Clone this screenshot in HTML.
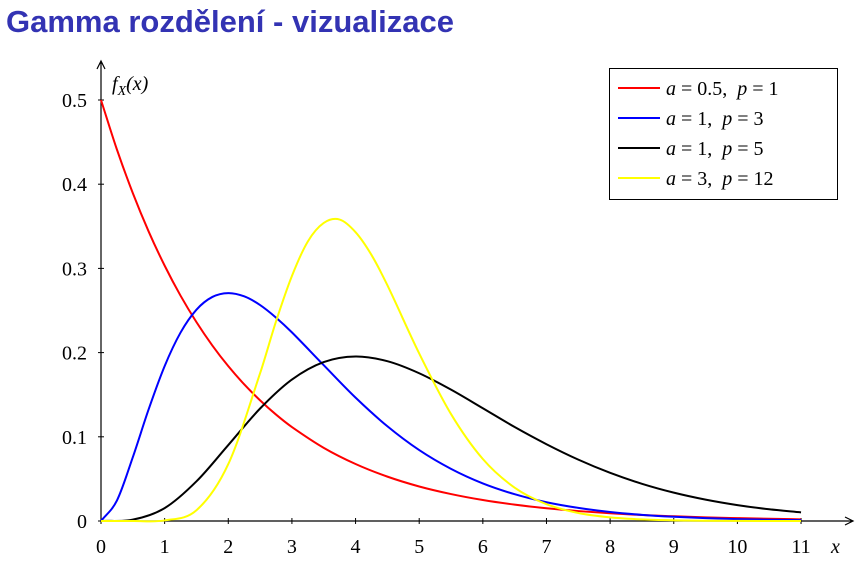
<!DOCTYPE html>
<html><head><meta charset="utf-8"><style>
body{margin:0;background:#fff;width:868px;height:572px;overflow:hidden}
svg{display:block}
.t{font-family:"Liberation Serif",serif;font-size:20px}
</style></head><body>
<svg width="868" height="572">
<text x="6" y="32" font-family="Liberation Sans, sans-serif" font-weight="bold" font-size="31" fill="#3333b3">Gamma rozdělení - vizualizace</text>
<g id="axes"></g>
<g id="series"></g>
<g id="legend"></g>
</svg>
<script>
const xTicks=[0,1,2,3,4,5,6,7,8,9,10,11];
const yTicks=[0,0.1,0.2,0.3,0.4,0.5];
const yTickLabels=["0","0.1","0.2","0.3","0.4","0.5"];
const fineX=[0,0.25,0.5,0.75,1,1.25,1.5,1.75,2,2.25,2.5,2.75,3,3.5,4,4.5,5,5.5,6,6.5,7,7.5,8,8.5,9,9.5,10,10.5,11];
const redY=[.5,.4412,.3894,.3436,.3033,.2676,.2362,.2084,.1839,.1623,.1433,.1264,.1116,.0869,.0677,.0527,.0410,.0320,.0249,.0194,.0151,.0118,.0092,.0071,.0056,.0043,.0034,.0026,.0020];
const blueY=[0,.0243,.0758,.1329,.184,.2238,.251,.2661,.2707,.2668,.2565,.2416,.224,.185,.1465,.1125,.0842,.0619,.0446,.0318,.0223,.0156,.0107,.0073,.005,.0034,.0023,.0015,.001];
const xsHalf=[0,0.5,1,1.5,2,2.5,3,3.5,4,4.5,5,5.5,6,6.5,7,7.5,8,8.5,9,9.5,10,10.5,11];
const blackY=[0,.0016,.0153,.0471,.0902,.1336,.168,.1888,.1954,.1898,.1755,.156,.1339,.1116,.0912,.0729,.0572,.0442,.0337,.0254,.0189,.0139,.0102];
const yellowX=[0,0.5,1,1.5,2,2.5,2.75,3,3.25,3.5,3.75,4,4.25,4.5,5,5.5,6,6.5,7,7.5,8,8.5,9,9.5,10,10.5,11];
const yellowY=[0,0,.00066,.0128,.0676,.1755,.237,.291,.332,.354,.358,.343,.316,.280,.199,.127,.0736,.0396,.02,.0095,.0043,.0019,.0008,.0003,.0001,0,0];
const seriesA=["0.5","1","1","3"];
const seriesP=["1","3","5","12"];
const NS="http://www.w3.org/2000/svg";
const X=v=>101+v*63.64, Y=v=>521-v*842;
function mk(t,a,p){const e=document.createElementNS(NS,t);for(const k in a)e.setAttribute(k,a[k]);p.appendChild(e);return e;}
const ax=document.getElementById('axes');
let e=mk('path',{d:`M101 521H852M845 517L853 521L845 525`,stroke:'#000','stroke-width':1.2,fill:'none'},ax);


e=mk('path',{d:`M101 521V62M97 69L101 61L105 69`,stroke:'#000','stroke-width':1.2,fill:'none'},ax);


xTicks.forEach(v=>{
 mk('line',{x1:X(v),x2:X(v),y1:518,y2:524,stroke:'#000'},ax);
 const t=mk('text',{x:X(v),y:553,'text-anchor':'middle',class:'t'},ax);t.textContent=v;
 
 
});
yTicks.forEach((v,i)=>{
 mk('line',{x1:98,x2:104,y1:Y(v),y2:Y(v),stroke:'#000'},ax);
 const t=mk('text',{x:87,y:Y(v)+7,'text-anchor':'end',class:'t'},ax);t.textContent=yTickLabels[i];
 
 
});
e=mk('text',{x:112,y:90,class:'t','font-style':'italic'},ax);e.innerHTML='f<tspan font-size="14" dy="5">X</tspan><tspan dy="-5">(x)</tspan>';


e=mk('text',{x:831,y:553,class:'t','font-style':'italic'},ax);e.textContent='x';


function spline(xs,ys){
 const n=xs.length,m=[];
 for(let i=0;i<n;i++){const a=Math.max(0,i-1),b=Math.min(n-1,i+1);m.push((ys[b]-ys[a])/(xs[b]-xs[a]));}
 let d=`M${X(xs[0])} ${Y(ys[0])}`;
 for(let i=0;i<n-1;i++){const h=xs[i+1]-xs[i];
  d+=`C${X(xs[i]+h/3)} ${Y(ys[i]+m[i]*h/3)} ${X(xs[i+1]-h/3)} ${Y(ys[i+1]-m[i+1]*h/3)} ${X(xs[i+1])} ${Y(ys[i+1])}`;}
 return d;}
const sg=document.getElementById('series');
const S=[[fineX,redY,'#ff0000','series-red'],[fineX,blueY,'#0000ff','series-blue'],[xsHalf,blackY,'#000000','series-black'],[yellowX,yellowY,'#ffff00','series-yellow']];
S.forEach(s=>{const p=mk('path',{d:spline(s[0],s[1]),stroke:s[2],'stroke-width':2,fill:'none'},sg);
 
 });
const lg=document.getElementById('legend');
e=mk('rect',{x:609.5,y:68.5,width:228,height:131,fill:'#fff',stroke:'#000'},lg);


S.forEach((s,i)=>{const y=88+i*30;
 mk('line',{x1:618,x2:660,y1:y,y2:y,stroke:s[2],'stroke-width':2},lg);
 const t=mk('text',{x:666,y:y+7,class:'t'},lg);
 t.innerHTML=`<tspan font-style="italic">a</tspan> = ${seriesA[i]},  <tspan font-style="italic">p</tspan> = ${seriesP[i]}`;
 t.style.whiteSpace='pre';
 
 });
</script>
</body></html>
